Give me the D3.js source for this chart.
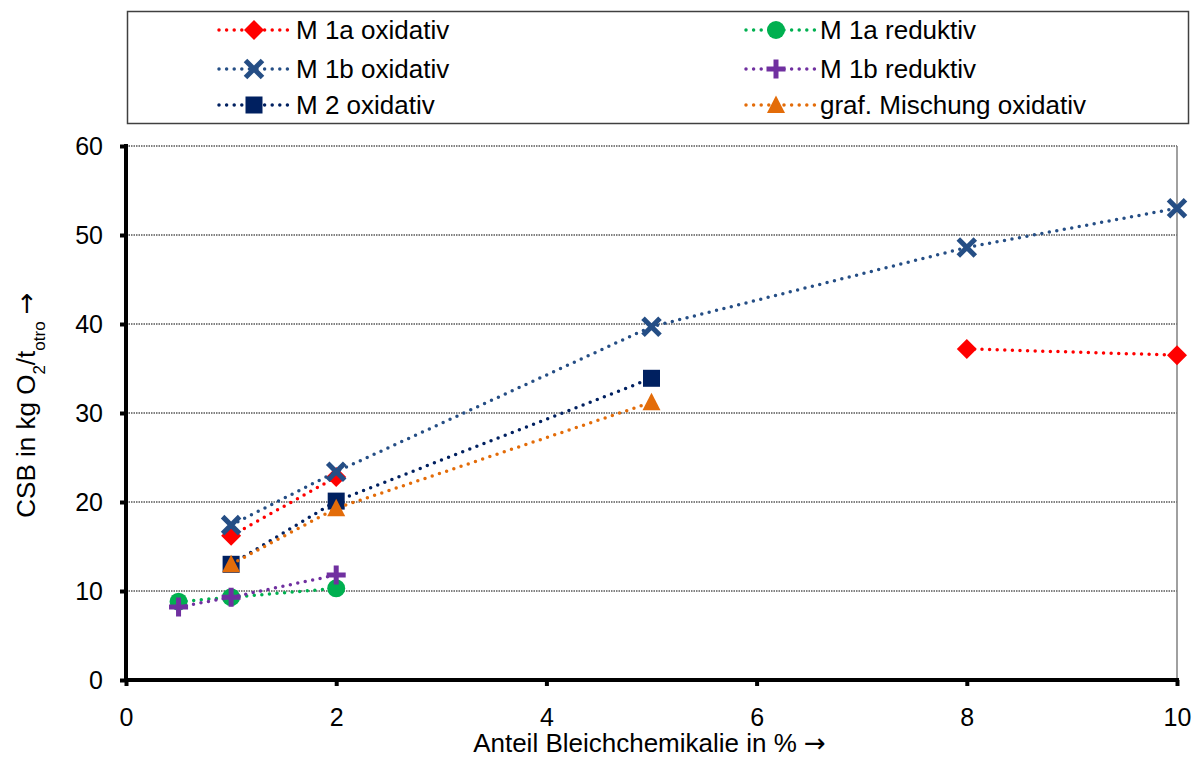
<!DOCTYPE html>
<html>
<head>
<meta charset="utf-8">
<script src="https://cdn.jsdelivr.net/npm/d3@7"></script>
<style>
  html, body { margin: 0; padding: 0; background: #fff; }
  svg { display: block; font-family: "Liberation Sans", Arial, sans-serif; }
  .arrow { font-family: "DejaVu Sans", sans-serif; }
</style>
</head>
<body>
<svg id="chart" width="1198" height="758"></svg>
<script>
// Bleaching chemical share (%) and COD values per series
const xValues = [0.5, 1, 2, 5, 8, 10];
const m1aOxidativ = [null, 16.2, 22.8, null, 37.2, 36.5];
const m1aReduktiv = [8.8, 9.3, 10.3, null, null, null];
const m1bOxidativ = [null, 17.4, 23.4, 39.7, 48.6, 53.0];
const m1bReduktiv = [8.2, 9.3, 11.8, null, null, null];
const m2Oxidativ = [null, 13.0, 20.1, 33.9, null, null];
const grafMischungOxidativ = [null, 13.0, 19.3, 31.2, null, null];

const seriesNames = ["M 1a oxidativ", "M 1a reduktiv", "M 1b oxidativ", "M 1b reduktiv", "M 2 oxidativ", "graf. Mischung oxidativ"];
const seriesValues = [m1aOxidativ, m1aReduktiv, m1bOxidativ, m1bReduktiv, m2Oxidativ, grafMischungOxidativ];
const seriesColors = ["#FF0000", "#00B050", "#254E85", "#7030A0", "#002060", "#E36C09"];
const seriesMarkers = ["diamond", "circle", "cross", "plus", "square", "triangle"];

const xTicks = [0, 2, 4, 6, 8, 10];
const yTicks = [0, 10, 20, 30, 40, 50, 60];

const svg = d3.select("#chart");
const plot = { left: 126, right: 1177, top: 146, bottom: 680 };
const tickFont = "25px";
const textFont = "26px";

const x = d3.scaleLinear().domain([0, 10]).range([plot.left, plot.right]);
const y = d3.scaleLinear().domain([0, 60]).range([plot.bottom, plot.top]);

// Horizontal gridlines
svg.append("g").selectAll("line")
  .data(yTicks.filter(t => t > 0))
  .join("line")
  .attr("x1", plot.left).attr("x2", plot.right)
  .attr("y1", d => y(d)).attr("y2", d => y(d))
  .attr("stroke", "#000").attr("stroke-width", 1)
  .attr("stroke-dasharray", "1.5 1");

// Right border of plot area
svg.append("line")
  .attr("x1", plot.right).attr("x2", plot.right)
  .attr("y1", plot.top).attr("y2", plot.bottom)
  .attr("stroke", "#808080").attr("stroke-width", 1.5);

// Axes
const xAxis = d3.axisBottom(x).tickValues(xTicks).tickSize(6).tickPadding(22).tickFormat(d3.format("d"));
const yAxis = d3.axisLeft(y).tickValues(yTicks).tickSize(6).tickPadding(17).tickFormat(d3.format("d"));

const gx = svg.append("g").attr("transform", `translate(0,${plot.bottom})`).call(xAxis);
const gy = svg.append("g").attr("transform", `translate(${plot.left},0)`).call(yAxis);

[gx, gy].forEach(g => {
  g.select(".domain").remove();
  g.selectAll(".tick line").attr("stroke", "#000").attr("stroke-width", 4);
  g.selectAll(".tick text")
    .attr("fill", "#000")
    .style("font-size", tickFont)
    .style("font-family", "'Liberation Sans', Arial, sans-serif");
});
gy.selectAll(".tick text").attr("dy", "0.35em");

// Thick axis lines
svg.append("line")
  .attr("x1", plot.left).attr("x2", plot.left)
  .attr("y1", plot.top - 2).attr("y2", plot.bottom + 2)
  .attr("stroke", "#000").attr("stroke-width", 4);
svg.append("line")
  .attr("x1", plot.left - 2).attr("x2", plot.right + 2)
  .attr("y1", plot.bottom).attr("y2", plot.bottom)
  .attr("stroke", "#000").attr("stroke-width", 4);

// Marker symbols
function drawMarker(g, type, color, cx, cy) {
  if (type === "cross") {
    const s = 8.5;
    g.append("path")
      .attr("d", `M${cx - s},${cy - s}L${cx + s},${cy + s}M${cx - s},${cy + s}L${cx + s},${cy - s}`)
      .attr("stroke", color).attr("stroke-width", 5).attr("fill", "none");
  } else if (type === "plus") {
    const s = 9.5;
    g.append("path")
      .attr("d", `M${cx - s},${cy}L${cx + s},${cy}M${cx},${cy - s}L${cx},${cy + s}`)
      .attr("stroke", color).attr("stroke-width", 5).attr("fill", "none");
  } else if (type === "diamond") {
    const s = 10;
    g.append("path")
      .attr("d", `M${cx},${cy - s}L${cx + s},${cy}L${cx},${cy + s}L${cx - s},${cy}Z`)
      .attr("fill", color);
  } else if (type === "circle") {
    g.append("circle").attr("cx", cx).attr("cy", cy).attr("r", 9).attr("fill", color);
  } else if (type === "square") {
    g.append("rect").attr("x", cx - 8.5).attr("y", cy - 8.5).attr("width", 17).attr("height", 17).attr("fill", color);
  } else if (type === "triangle") {
    g.append("path")
      .attr("d", `M${cx},${cy - 9.5}L${cx + 9},${cy + 8}L${cx - 9},${cy + 8}Z`)
      .attr("fill", color);
  }
}

const dotted = { width: 3.5, dash: "0 7.6" };

// Series lines and markers
const line = d3.line()
  .defined(d => d.v !== null)
  .x(d => x(d.x))
  .y(d => y(d.v));

const seriesLayer = svg.append("g");
seriesValues.forEach((vals, i) => {
  const pts = xValues.map((xv, j) => ({ x: xv, v: vals[j] }));
  seriesLayer.append("path")
    .datum(pts)
    .attr("d", line)
    .attr("fill", "none")
    .attr("stroke", seriesColors[i])
    .attr("stroke-width", dotted.width)
    .attr("stroke-linecap", "round")
    .attr("stroke-dasharray", dotted.dash);
  const mg = seriesLayer.append("g");
  pts.filter(p => p.v !== null).forEach(p => drawMarker(mg, seriesMarkers[i], seriesColors[i], x(p.x), y(p.v)));
});

// Axis titles
const xTitle = svg.append("text")
  .attr("x", (plot.left + plot.right) / 2 - 2)
  .attr("y", 752)
  .attr("text-anchor", "middle")
  .style("font-size", textFont);
xTitle.append("tspan").text("Anteil Bleichchemikalie in % ");
xTitle.append("tspan").attr("class", "arrow").text("→");

const yTitle = svg.append("text")
  .attr("transform", `translate(35,${(plot.top + plot.bottom) / 2 - 8}) rotate(-90)`)
  .attr("text-anchor", "middle")
  .style("font-size", textFont);
yTitle.append("tspan").text("CSB in kg O");
yTitle.append("tspan").attr("baseline-shift", "sub").style("font-size", "17px").text("2");
yTitle.append("tspan").text("/t");
yTitle.append("tspan").attr("baseline-shift", "sub").style("font-size", "17px").text("otro");
yTitle.append("tspan").text(" ");
yTitle.append("tspan").attr("class", "arrow").text("→");

// Legend
const legend = svg.append("g");
legend.append("rect")
  .attr("x", 127.5).attr("y", 11.5)
  .attr("width", 1061).attr("height", 112)
  .attr("fill", "#fff").attr("stroke", "#404040").attr("stroke-width", 1.5);

const legendCols = [{ lx1: 219, lx2: 288, mx: 254, tx: 296 }, { lx1: 746, lx2: 815, mx: 776, tx: 820 }];
const legendRows = [30, 69, 105];
seriesNames.forEach((name, i) => {
  const col = legendCols[i % 2];
  const ry = legendRows[Math.floor(i / 2)];
  legend.append("line")
    .attr("x1", col.lx1).attr("x2", col.lx2)
    .attr("y1", ry).attr("y2", ry)
    .attr("stroke", seriesColors[i])
    .attr("stroke-width", dotted.width)
    .attr("stroke-linecap", "round")
    .attr("stroke-dasharray", dotted.dash);
  drawMarker(legend, seriesMarkers[i], seriesColors[i], col.mx, ry);
  legend.append("text")
    .attr("x", col.tx).attr("y", ry)
    .attr("dy", "0.35em")
    .style("font-size", textFont)
    .text(name);
});
</script>
</body>
</html>
